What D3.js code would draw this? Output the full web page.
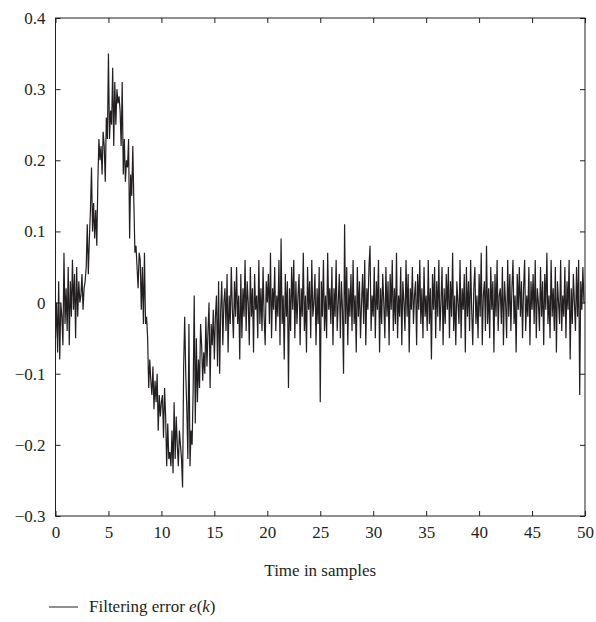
<!DOCTYPE html>
<html><head><meta charset="utf-8">
<script src="https://cdn.jsdelivr.net/npm/d3@7"></script>
<style>body{margin:0;background:#fff}text{font-family:"Liberation Serif",serif}</style>
</head><body>
<script>
// filtering error e(k) in hundredths, one value per 0.1 sample
const errHundredths = [
-5,0,-7,3,-8,0,-2,-6,7,-3, 2,-4,5,-6,3,-2,6,-1,4,-5, 5,-2,3,0,1,4,-1,2,3,5,
11,4,9,13,19,10,14,9,13,8, 17,23,20,22,18,24,22,17,26,23, 35,23,27,25,33,22,31,25,30,28,
29,27,22,31,18,23,17,20,19,23, 9,18,15,22,14,7,8,5,2,7, 6,-1,5,-3,7,-3,-2,-5,-12,-8,
-11,-13,-9,-15,-11,-14,-10,-18,-13,-16, -14,-13,-19,-12,-16,-23,-17,-22,-21,-23,
-18,-24,-14,-22,-16,-20,-23,-18,-20,-22, -26,-9,-2,-10,-15,-22,-3,-23,-18,-20,
-12,1,-17,-5,-14,-8,-12,-3,-6,-11, -7,-10,-2,-9,-4,0,-12,-3,-6,-1,
-8,-2,1,-9,3,-10,-1,3,-6,0, 2,-4,4,-7,1,-3,5,-1,-5,3, -2,5,-3,1,-8,4,-5,2,-2,6,
-4,3,0,-6,5,-2,2,-7,4,-1, 1,-5,6,-3,2,-4,5,-2,-6,3, 0,4,-3,7,-5,2,-1,5,-4,1,
-2,6,-6,9,-3,1,-8,4,-2,3, -12,2,-4,5,-1,6,-5,3,-3,1, 4,-6,2,-2,7,-4,1,-7,5,-1,
3,-5,6,-2,0,4,-6,2,-3,5, -14,3,-2,6,-4,1,-5,7,-1,2, -3,5,-6,2,-2,6,-4,0,4,-5,
3,-1,-10,11,-3,5,-6,2,-2,4, -4,6,-3,1,-7,5,-2,3,-5,0, 4,-3,6,-6,2,-1,5,8,-4,1,
-2,5,-5,3,-1,6,-7,2,-3,4, 0,-5,5,-2,3,-6,4,-1,6,-4, 2,-3,7,-5,1,-2,5,-6,3,0,
-4,6,-2,4,-7,2,-1,5,-3,1, 3,-6,4,-1,6,-3,2,-5,5,-2, 1,-4,6,-3,2,-8,4,-1,5,-5,
3,-2,6,-4,0,5,-6,2,-3,4, -1,5,-5,3,-2,7,-4,1,-6,3, 0,-3,6,-5,2,-1,4,-7,5,-2,
3,-4,6,-1,-6,2,5,-3,1,-5, 4,-2,7,-6,1,3,-4,8,-3,2, -5,5,-1,3,-7,4,-2,6,-4,1,
2,-3,5,-6,3,0,-5,6,-2,4, -4,2,6,-3,1,-7,4,-1,5,-2, 3,-5,2,6,-4,1,-2,5,-6,3,
-1,4,-3,6,-5,2,0,-4,5,-2, 3,-6,4,-1,7,-3,1,-5,6,-2, 2,-4,5,-7,3,0,-3,6,-4,1,
-2,5,-5,3,-1,6,-8,2,-3,4, 0,-4,5,-2,6,-13,3,-1,5,0, 0]
const xTicks = [0,5,10,15,20,25,30,35,40,45,50]
const yTicks = [-0.3,-0.2,-0.1,0,0.1,0.2,0.3,0.4]
const data = errHundredths.map((v,i) => [i/10, v/100])

const W = 596, H = 622
const m = {l:55.5, r:11, t:18, b:106}
const svg = d3.select("body").append("svg").attr("width",W).attr("height",H)
const x = d3.scaleLinear().domain([0,50]).range([m.l, W-m.r])
const y = d3.scaleLinear().domain([-0.3,0.4]).range([H-m.b, m.t])
const fmt = d => d3.format(".1~f")(d).replace("-","−")
const ink = "#231f20"

svg.append("path").datum(data)
    .attr("d", d3.line().x(d => x(d[0])).y(d => y(d[1])))
    .attr("fill","none").attr("stroke",ink).attr("stroke-width",1.2)

const ax = svg.append("g").attr("transform",`translate(0,${H-m.b})`)
    .call(d3.axisBottom(x).tickValues(xTicks).tickSize(-5).tickPadding(10))
const ay = svg.append("g").attr("transform",`translate(${m.l},0)`)
    .call(d3.axisLeft(y).tickValues(yTicks).tickFormat(fmt).tickSize(-5).tickPadding(10))
const axTop = svg.append("g").attr("transform",`translate(0,${m.t})`)
    .call(d3.axisTop(x).tickValues(xTicks).tickSize(-5).tickFormat(""))
const ayRight = svg.append("g").attr("transform",`translate(${W-m.r},0)`)
    .call(d3.axisRight(y).tickValues(yTicks).tickSize(-5).tickFormat(""))
for (const g of [ax, ay, axTop, ayRight]) {
    g.select(".domain").remove()
    g.selectAll("line").attr("stroke",ink)
    g.selectAll("text").attr("font-size",17).attr("fill",ink).style("font-family","Liberation Serif")
}
svg.append("rect").attr("x",m.l).attr("y",m.t).attr("width",W-m.r-m.l).attr("height",H-m.b-m.t)
    .attr("fill","none").attr("stroke",ink).attr("stroke-width",1)

svg.append("text").attr("x",(m.l+W-m.r)/2).attr("y",576).attr("text-anchor","middle")
    .attr("font-size",17).attr("fill",ink).text("Time in samples")
svg.append("line").attr("x1",49).attr("x2",78).attr("y1",607).attr("y2",607).attr("stroke",ink)
const lt = svg.append("text").attr("x",89).attr("y",612).attr("font-size",17).attr("fill",ink)
lt.append("tspan").text("Filtering error ")
lt.append("tspan").attr("font-style","italic").text("e")
lt.append("tspan").text("(")
lt.append("tspan").attr("font-style","italic").text("k")
lt.append("tspan").text(")")
</script>
</body></html>
